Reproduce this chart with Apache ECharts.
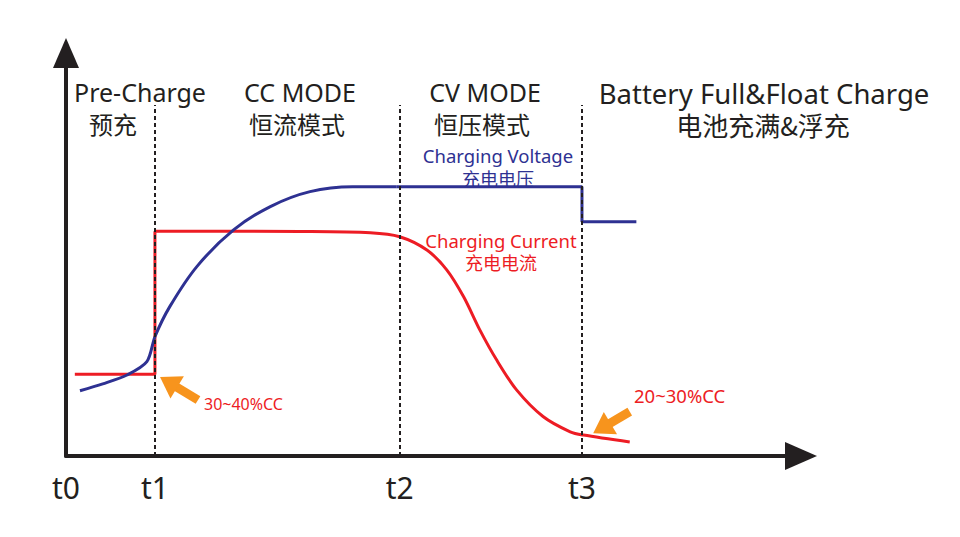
<!DOCTYPE html>
<html>
<head>
<meta charset="utf-8">
<script src="https://cdn.jsdelivr.net/npm/echarts@6/dist/echarts.min.js"></script>
<style>
html,body{margin:0;padding:0;background:#fff;}
#main{width:960px;height:537px;}
</style>
</head>
<body>
<div id="main"></div>
<script>
// ---- data (x: time units 0..100, y: level units 0..100) ----
const tickValues = [0, 12.1, 45.4, 70.2];
const tickLabels = ['t0', 't1', 't2', 't3'];
const phaseLineTop = 87.1;

// Charging voltage: rising curve part (smooth)
const voltageCurveX = [1.9, 5.0, 8.3, 11.0, 12.1, 14.1, 17.8, 22.8, 27.8, 33.2, 39.0, 45.0];
const voltageCurveY = [16.2, 17.9, 20.1, 23.4, 29.6, 37.0, 47.0, 56.1, 61.9, 65.6, 66.8, 66.8];
// Charging voltage: plateau and float step
const voltageStepX = [45.0, 70.2, 70.2, 77.6];
const voltageStepY = [66.8, 66.8, 58.1, 58.1];

// Charging current: pre-charge step
const currentStepX = [1.2, 12.1, 12.1];
const currentStepY = [20.3, 20.3, 55.8];
// Charging current: CC plateau and CV decay (smooth)
const currentCurveX = [12.1, 31.8, 41.4, 45.4, 49.1, 51.8, 54.1, 56.3, 58.6, 61.3, 64.9, 68.6, 70.4, 76.7];
const currentCurveY = [55.8, 55.7, 55.4, 54.4, 51.1, 46.2, 39.5, 31.3, 23.8, 16.4, 9.8, 6.0, 5.2, 3.5];

// Orange pointer arrows [tail, head]
const arrow1 = [[17.96, 13.9], [13.96, 18.3]];
const arrow2 = [[76.7, 11.0], [72.9, 6.9]];

const zip = (xs, ys) => xs.map((x, i) => [x, ys[i]]);

const BLUE = '#2e3192';
const RED = '#ed1c24';
const ORANGE = '#f7941d';
const INK = '#231f20';
const LATIN = '"Noto Sans", "Open Sans", sans-serif';
const CJK = '"Noto Sans CJK SC", sans-serif';

const chart = echarts.init(document.getElementById('main'), null, {renderer: 'svg'});

const phaseLines = tickValues.slice(1).map(v => [{coord: [v, 0]}, {coord: [v, phaseLineTop]}]);

function txt(text, x, y, size, color, font, align) {
  return {
    type: 'text', x: x, y: y, silent: true,
    style: {text: text, fill: color || INK, font: size + 'px ' + (font || LATIN),
            lineHeight: Math.round(size * 1.05),
            textAlign: align || 'center', textVerticalAlign: 'middle'}
  };
}

const option = {
  animation: false,
  backgroundColor: '#ffffff',
  grid: {left: 66, top: 53, right: 159, bottom: 81},
  xAxis: {
    type: 'value', min: 0, max: 100,
    axisLine: {show: true, lineStyle: {color: INK, width: 4},
      symbol: ['none', 'triangle'], symbolSize: [28, 32]},
    axisTick: {show: false},
    splitLine: {show: false},
    axisLabel: {
      show: true, customValues: tickValues, margin: 16,
      color: INK, fontSize: 30, fontFamily: LATIN,
      formatter: function (v) {
        let best = 0;
        tickValues.forEach((t, i) => { if (Math.abs(t - v) < Math.abs(tickValues[best] - v)) best = i; });
        return tickLabels[best];
      }
    }
  },
  yAxis: {
    type: 'value', min: 0, max: 100,
    axisLine: {show: true, lineStyle: {color: INK, width: 4},
      symbol: ['none', 'triangle'], symbolSize: [26, 30]},
    axisTick: {show: false},
    splitLine: {show: false},
    axisLabel: {show: false}
  },
  series: [
    {
      type: 'line', name: 'phases', data: [], silent: true,
      markLine: {
        silent: true, symbol: ['none', 'none'], label: {show: false},
        lineStyle: {color: INK, width: 2, type: [4, 3]},
        data: phaseLines
      }
    },
    {
      type: 'line', name: 'current-step', data: zip(currentStepX, currentStepY),
      showSymbol: false, lineStyle: {color: RED, width: 3}, z: 3
    },
    {
      type: 'line', name: 'current-curve', data: zip(currentCurveX, currentCurveY),
      smooth: 0.3,
      showSymbol: false, lineStyle: {color: RED, width: 3}, z: 3
    },
    {
      type: 'line', name: 'voltage-curve', data: zip(voltageCurveX, voltageCurveY),
      smooth: 0.3,
      showSymbol: false, lineStyle: {color: BLUE, width: 3}, z: 4
    },
    {
      type: 'line', name: 'voltage-step', data: zip(voltageStepX, voltageStepY),
      showSymbol: false, lineStyle: {color: BLUE, width: 3}, z: 4
    },
    {
      type: 'line', name: 'pointers', data: [], silent: true, z: 5,
      markLine: {
        silent: true, symbol: ['none', 'triangle'], symbolSize: [26, 20],
        label: {show: false},
        lineStyle: {color: ORANGE, width: 9, type: 'solid', cap: 'butt'},
        itemStyle: {color: ORANGE},
        data: [
          [{coord: arrow1[0]}, {coord: arrow1[1]}],
          [{coord: arrow2[0]}, {coord: arrow2[1]}]
        ]
      }
    }
  ],
  graphic: [
    txt('Pre-Charge', 140, 92, 25),
    txt('预充', 113, 123, 24, INK, CJK),
    txt('CC MODE', 300, 92, 25),
    txt('恒流模式', 297, 123, 24, INK, CJK),
    txt('CV MODE', 485, 92, 25),
    txt('恒压模式', 482, 123, 24, INK, CJK),
    txt('Battery Full&Float Charge', 764, 93, 27.5),
    txt('电池充满&浮充', 763, 124, 26, INK, CJK),
    txt('Charging Voltage', 498, 155, 18.5, BLUE),
    txt('充电电压', 498, 178, 18, BLUE, CJK),
    txt('Charging Current', 501, 240, 18.5, RED),
    txt('充电电流', 501, 262, 18, RED, CJK),
    txt('30~40%CC', 204, 404, 16, RED, LATIN, 'left'),
    txt('20~30%CC', 634, 395, 18.5, RED, LATIN, 'left')
  ]
};
chart.setOption(option);
</script>
</body>
</html>
